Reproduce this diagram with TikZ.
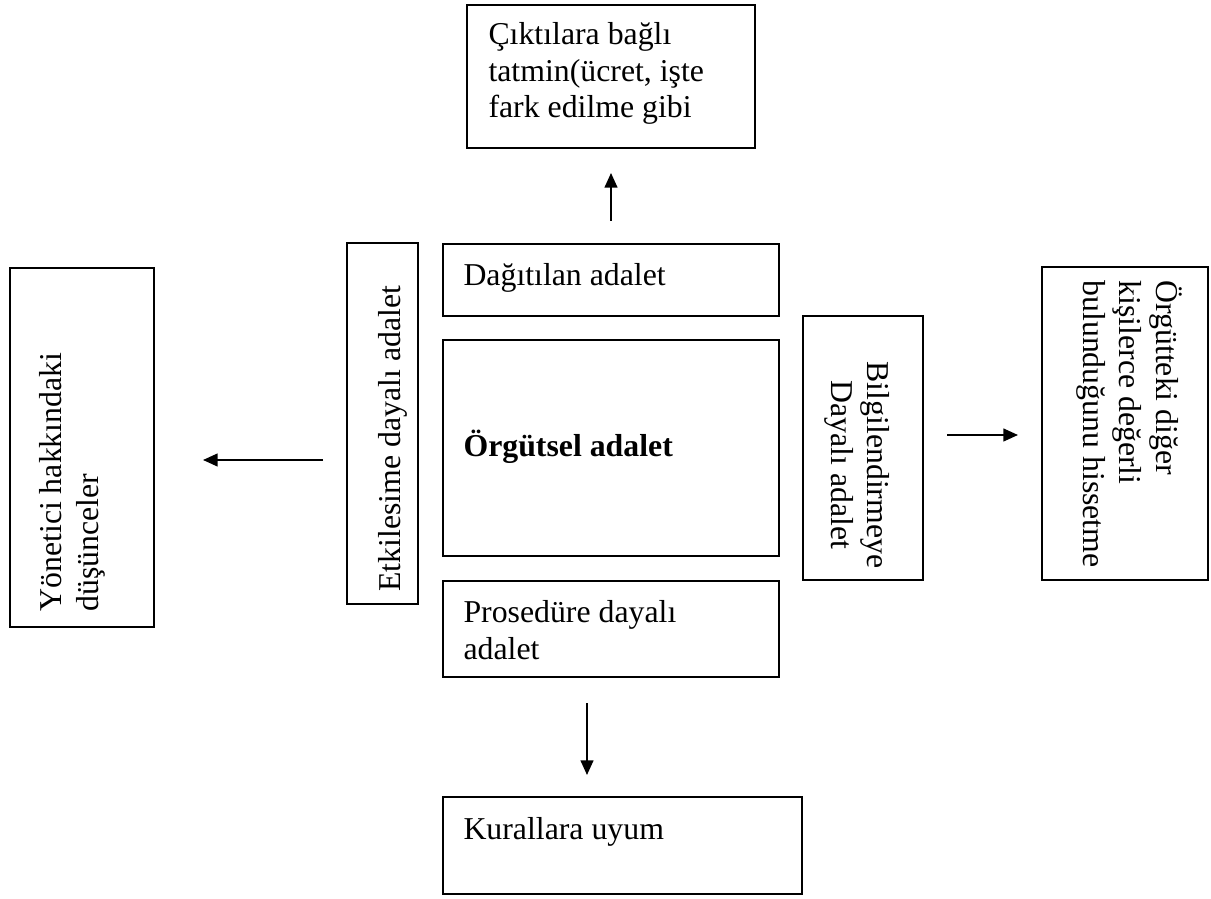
\documentclass[tikz,border=0pt]{standalone}
\usepackage{fontspec}
\setmainfont{Liberation Serif}
\usetikzlibrary{arrows.meta,fit}
\newcommand\mybox[5]{%
  \coordinate (#1-a) at (#2,#3);
  \coordinate (#1-b) at (#4,#5);
  \node[box,fit=(#1-a)(#1-b)] (#1) {};}
\begin{document}
\begin{tikzpicture}[x=0.37736pt,y=-0.37736pt,
  box/.style={draw,line width=0.75pt,inner sep=0pt,outer sep=0pt},
  txt/.style={inner sep=0pt,font=\fontsize{12pt}{13.8pt}\selectfont,align=left},
  arr/.style={line width=0.7pt,-{Triangle[length=5.5pt,width=4.8pt]}}]
\useasboundingbox (0,0) rectangle (1211,899);

% boxes
\mybox{top}{467}{5}{755}{148}
\mybox{dag}{443}{244}{779}{316}
\mybox{org}{443}{340}{779}{556}
\mybox{pro}{443}{581}{779}{677}
\mybox{kur}{443}{797}{802}{894}
\mybox{etk}{347}{243}{418}{604}
\mybox{yon}{10}{268}{154}{627}
\mybox{bil}{803}{316}{923}{580}
\mybox{ode}{1042}{267}{1208}{580}

% texts (multi-line nodes are anchored at the baseline of their last line)
\node[txt,anchor=base west] (ttop) at (488,118) {Çıktılara bağlı\\tatmin(ücret, işte\\fark edilme gibi};
\node[txt,anchor=base west] (tdag) at (463,286) {Dağıtılan adalet};
\node[txt,anchor=base west] (torg) at (463,457) {\bfseries Örgütsel adalet};
\node[txt,anchor=base west] (tpro) at (463,659) {Prosedüre dayalı\\adalet};
\node[txt,anchor=base west] (tkur) at (463,839) {Kurallara uyum};
\node[txt,anchor=base west,rotate=90] (tetk) at (400,592) {Etkilesime dayalı adalet};
\node[txt,anchor=base west,rotate=90] (tyon) at (98,612) {Yönetici hakkındaki\\düşünceler};
\node[txt,anchor=base,rotate=-90,align=center] (tbil) at (831,465) {Bilgilendirmeye\\Dayalı adalet};
\node[txt,anchor=base west,rotate=-90] (tode) at (1083,280) {Örgütteki diğer\\kişilerce değerli\\bulunduğunu hissetme};

% arrows
\coordinate (u1) at (611,221); \coordinate (u2) at (611,173);
\coordinate (d1) at (587,703); \coordinate (d2) at (587,775);
\coordinate (l1) at (323,460); \coordinate (l2) at (203,460);
\coordinate (r1) at (947,435); \coordinate (r2) at (1018,435);
\draw[arr] (u1) -- (u2);
\draw[arr] (d1) -- (d2);
\draw[arr] (l1) -- (l2);
\draw[arr] (r1) -- (r2);
\end{tikzpicture}
\end{document}
